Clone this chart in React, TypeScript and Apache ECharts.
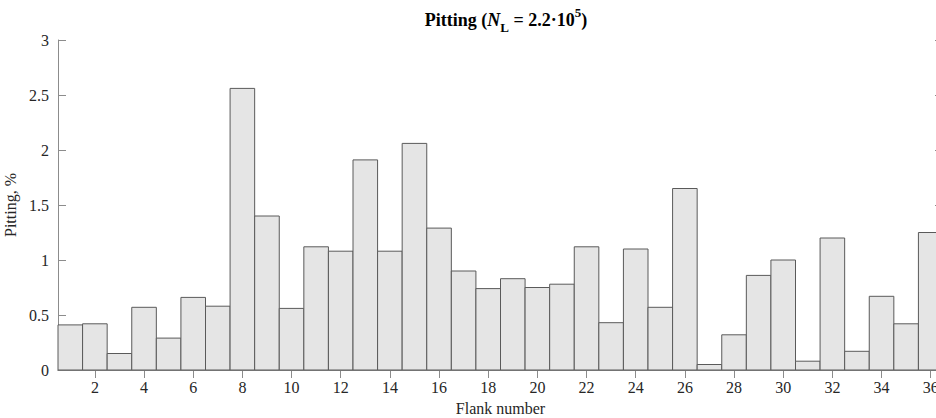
import React, { useEffect, useRef } from "react";
import * as echarts from "echarts";

const flanks: string[] = Array.from({ length: 36 }, (_, i) => String(i + 1));
const pitting: number[] = [
  0.41, 0.42, 0.15, 0.57, 0.29, 0.66, 0.58, 2.56, 1.4, 0.56, 1.12, 1.08,
  1.91, 1.08, 2.06, 1.29, 0.9, 0.74, 0.83, 0.75, 0.78, 1.12, 0.43, 1.1,
  0.57, 1.65, 0.05, 0.32, 0.86, 1.0, 0.08, 1.2, 0.17, 0.67, 0.42, 1.25,
];
const yTicks = { min: 0, max: 3, interval: 0.5 };

const FONT = "'Liberation Serif', 'Times New Roman', serif";
const AXIS_COLOR = "#8c8c8c";
const TEXT_COLOR = "#262626";
const PLOT_WIDTH = 885;

export default function App() {
  const ref = useRef<HTMLDivElement>(null);
  useEffect(() => {
    if (!ref.current) return;
    const chart = echarts.init(ref.current, undefined, { renderer: "svg" });
    const evenOnly = (index: number) => index % 2 === 1;
    const baseX = {
      type: "category" as const,
      data: flanks,
      boundaryGap: true,
      axisLine: { show: true, lineStyle: { color: AXIS_COLOR, width: 1 } },
      splitLine: { show: false },
    };
    const baseY = {
      type: "value" as const,
      min: yTicks.min,
      max: yTicks.max,
      interval: yTicks.interval,
      axisLine: { show: true, lineStyle: { color: AXIS_COLOR, width: 1 } },
      axisTick: { show: true, inside: true, length: 8, lineStyle: { color: AXIS_COLOR } },
      splitLine: { show: false },
    };
    chart.setOption({
      animation: false,
      backgroundColor: "#ffffff",
      textStyle: { fontFamily: FONT },
      title: {
        text: "{b|Pitting (}{i|N}{sub|L}{b| = 2.2·10}{sup|5}{b|)}",
        left: 501,
        top: 0,
        textAlign: "center",
        textStyle: {
          rich: {
            b: { fontFamily: FONT, fontWeight: "bold", fontSize: 18, color: "#000", lineHeight: 30, verticalAlign: "middle" },
            i: { fontFamily: FONT, fontWeight: "bold", fontStyle: "italic", fontSize: 18, color: "#000", lineHeight: 30, verticalAlign: "middle" },
            sub: { fontFamily: FONT, fontWeight: "bold", fontSize: 13, color: "#000", lineHeight: 30, verticalAlign: "bottom", padding: [0, 0, 1, 0] },
            sup: { fontFamily: FONT, fontWeight: "bold", fontSize: 13, color: "#000", lineHeight: 30, verticalAlign: "top", padding: [1, 0, 0, 0] },
          },
        },
      },
      grid: { left: 58, top: 40, width: PLOT_WIDTH, bottom: 48, containLabel: false, outerBoundsMode: "none" },
      xAxis: [
        {
          ...baseX,
          position: "bottom",
          name: "Flank number",
          nameLocation: "middle",
          nameGap: 30,
          nameTextStyle: { fontFamily: FONT, fontSize: 16, color: TEXT_COLOR },
          axisTick: { show: true, inside: true, length: 8, alignWithLabel: true, interval: evenOnly, lineStyle: { color: AXIS_COLOR } },
          axisLabel: { show: true, interval: evenOnly, fontFamily: FONT, fontSize: 16, color: TEXT_COLOR, margin: 9 },
        },
        {
          ...baseX,
          position: "top",
          axisTick: { show: true, inside: true, length: 8, alignWithLabel: true, interval: evenOnly, lineStyle: { color: AXIS_COLOR } },
          axisLabel: { show: false },
        },
      ],
      yAxis: [
        {
          ...baseY,
          position: "left",
          name: "Pitting, %",
          nameLocation: "middle",
          nameGap: 38,
          nameTextStyle: { fontFamily: FONT, fontSize: 16, color: TEXT_COLOR },
          axisLabel: { show: true, fontFamily: FONT, fontSize: 16, color: TEXT_COLOR, margin: 9 },
        },
        {
          ...baseY,
          position: "right",
          axisLabel: { show: false },
        },
      ],
      series: [
        {
          type: "custom",
          xAxisIndex: 0,
          yAxisIndex: 0,
          data: pitting.map((v, i) => [i, v]),
          encode: { x: 0, y: 1 },
          clip: false,
          renderItem: (params: any, api: any) => {
            const idx = api.value(0);
            const val = api.value(1);
            const base = api.coord([idx, 0]);
            const top = api.coord([idx, val]);
            const w = api.size([1, 0])[0];
            return {
              type: "rect",
              shape: { x: base[0] - w / 2, y: top[1], width: w, height: base[1] - top[1] },
              style: { fill: "#e5e5e5", stroke: "#5a5a5a", lineWidth: 1 },
            };
          },
          emphasis: { disabled: true },
        },
      ],
    });
    return () => chart.dispose();
  }, []);
  return (
    <div
      ref={ref}
      style={{ position: "fixed", left: 0, top: 0, width: 936, height: 418, background: "#fff" }}
    />
  );
}
